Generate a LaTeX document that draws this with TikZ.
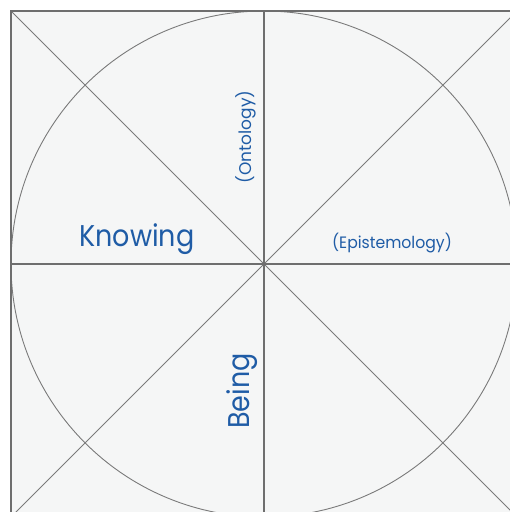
\documentclass[tikz,border=0pt]{standalone}
\usepackage{fontspec}
\setmainfont{Poppins}
\definecolor{bg}{HTML}{F5F6F6}
\definecolor{ln}{HTML}{7A7A7A}
\definecolor{ax}{HTML}{6E6E6E}
\definecolor{txt}{HTML}{1F5CA6}
\tikzset{
  thin line/.style={draw=ln, line width=0.9pt},
  axis line/.style={draw=ax, line width=2.4pt},
  lbl/.style={text=txt, inner sep=0pt, anchor=center},
}
\begin{document}
\begin{tikzpicture}[x=1pt,y=-1pt]
\useasboundingbox (0,0) rectangle (510,512);
\fill[white] (0,0) rectangle (510,512);
\coordinate (tl) at (11,11);
\coordinate (tr) at (517,11);
\coordinate (bl) at (11,517);
\coordinate (br) at (517,517);
\coordinate (c) at (264,264);
\fill[bg] (tl) rectangle (br);
\draw[thin line] (c) circle[radius=253];
\draw[thin line] (tl) -- (br);
\draw[thin line] (tr) -- (bl);
\draw[axis line] (11,264) -- (517,264);
\draw[axis line] (264,11) -- (264,517);
\draw[draw=ax, line width=1.8pt] (bl) -- (tl) -- (tr);
\node[lbl, font=\fontsize{30}{32}\selectfont] (knowing) at (137,239) {\scalebox{0.9}[1]{Knowing}};
\node[lbl, font=\fontsize{16.5}{18}\selectfont] (epi) at (392,243) {\scalebox{0.95}[1]{(Epistemology)}};
\node[lbl, font=\fontsize{17}{18}\selectfont, rotate=90] (onto) at (246,137) {(Ontology)};
\node[lbl, font=\fontsize{30}{32}\selectfont, rotate=90] (being) at (242,391) {\scalebox{0.9}[1]{Being}};
\end{tikzpicture}
\end{document}
